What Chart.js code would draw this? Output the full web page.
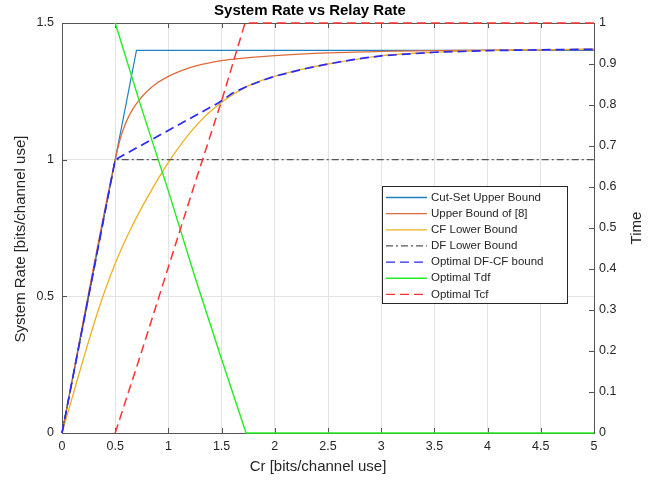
<!DOCTYPE html>
<html>
<head>
<meta charset="utf-8">
<title>System Rate vs Relay Rate</title>
<script src="https://cdn.jsdelivr.net/npm/chart.js@4.4.1/dist/chart.umd.min.js"></script>
<style>
  html, body { margin: 0; padding: 0; background: #fff; }
  #wrap { width: 662px; height: 480px; }
</style>
</head>
<body>
<div id="wrap"><canvas id="grafico" width="662" height="480"></canvas></div>
<script>
// ticks
const xTicks = [0, 0.5, 1, 1.5, 2, 2.5, 3, 3.5, 4, 4.5, 5];
const leftTicks = [0, 0.5, 1, 1.5];
const rightTicks = [0, 0.1, 0.2, 0.3, 0.4, 0.5, 0.6, 0.7, 0.8, 0.9, 1];

// series (x = Cr)
const cutSetX = [0, 0.7, 5];
const cutSetY = [0, 1.4, 1.4];

const upperX = [0, 0.5, 0.55, 0.6, 0.65, 0.7, 0.8, 0.9, 1.0, 1.1, 1.25, 1.5, 1.75, 2, 2.5, 3, 3.5, 4, 5];
const upperY = [0, 1.0, 1.08, 1.135, 1.175, 1.205, 1.25, 1.282, 1.305, 1.322, 1.342, 1.362, 1.373, 1.381, 1.391, 1.396, 1.399, 1.401, 1.403];

const cfX = [0, 0.1, 0.2, 0.35, 0.5, 0.65, 0.8, 1.0, 1.25, 1.5, 1.75, 2, 2.25, 2.5, 3, 3.5, 4, 4.5, 5];
const cfY = [0, 0.135, 0.27, 0.46, 0.62, 0.75, 0.86, 0.99, 1.12, 1.21, 1.27, 1.305, 1.33, 1.35, 1.38, 1.393, 1.399, 1.402, 1.404];

const dfX = [0, 0.5, 5];
const dfY = [0, 1, 1];

const dfcfX = [0, 0.5, 1.48, 1.6, 1.75, 1.9, 2, 2.25, 2.5, 2.75, 3, 3.5, 4, 4.5, 5];
const dfcfY = [0, 1.0, 1.21, 1.243, 1.27, 1.292, 1.305, 1.33, 1.35, 1.367, 1.38, 1.393, 1.399, 1.402, 1.404];

const tdfX = [0.5, 0.75, 1.0, 1.25, 1.5, 1.73, 5];
const tdfY = [1.0, 0.79, 0.59, 0.38, 0.18, 0, 0];

const tcfX = [0.5, 0.75, 1.0, 1.25, 1.5, 1.72, 5];
const tcfY = [0, 0.2, 0.405, 0.61, 0.81, 1, 1];

const FONTE = "'Liberation Sans', Arial, Helvetica, sans-serif";

function pares(xs, ys) {
    return xs.map((x, i) => ({ x: x, y: ys[i] }));
}

const series = [
    { label: 'Cut-Set Upper Bound', data: pares(cutSetX, cutSetY), cor: '#1f80c4', dash: [], eixo: 'y', w: 1.2 },
    { label: 'Upper Bound of [8]', data: pares(upperX, upperY), cor: '#dd6a3a', dash: [], eixo: 'y', w: 1.3, suave: true },
    { label: 'CF Lower Bound', data: pares(cfX, cfY), cor: '#EDB120', dash: [], eixo: 'y', w: 1.3, suave: true },
    { label: 'DF Lower Bound', data: pares(dfX, dfY), cor: '#555555', dash: [7, 3, 2, 3], eixo: 'y', w: 1.3 },
    { label: 'Optimal DF-CF bound', data: pares(dfcfX, dfcfY), cor: '#2a2aff', dash: [9, 5], eixo: 'y', w: 1.7 },
    { label: 'Optimal Tdf', data: pares(tdfX, tdfY), cor: '#22ee22', dash: [], eixo: 'y2', w: 1.4 },
    { label: 'Optimal Tcf', data: pares(tcfX, tcfY), cor: '#ff3333', dash: [9, 5], eixo: 'y2', w: 1.5 }
];

const molduraPlugin = {
    id: 'moldura',
    beforeDatasetsDraw(chart) {
        const { ctx, chartArea: a, scales } = chart;
        ctx.save();
        ctx.strokeStyle = '#555555';
        ctx.lineWidth = 1;
        ctx.beginPath();
        ctx.moveTo(a.left, a.top + 0.5);
        ctx.lineTo(a.right, a.top + 0.5);
        xTicks.forEach(v => {
            const px = Math.round(scales.x.getPixelForValue(v)) + 0.5;
            ctx.moveTo(px, a.bottom); ctx.lineTo(px, a.bottom - 5);
            ctx.moveTo(px, a.top); ctx.lineTo(px, a.top + 5);
        });
        leftTicks.forEach(v => {
            const py = Math.round(scales.y.getPixelForValue(v)) + 0.5;
            ctx.moveTo(a.left, py); ctx.lineTo(a.left + 5, py);
        });
        rightTicks.forEach(v => {
            const py = Math.round(scales.y2.getPixelForValue(v)) + 0.5;
            ctx.moveTo(a.right, py); ctx.lineTo(a.right - 5, py);
        });
        ctx.stroke();
        ctx.restore();
    },
    afterDraw(chart) {
        const ctx = chart.ctx;
        ctx.save();

        // titulo e rotulos dos eixos
        ctx.fillStyle = '#000';
        ctx.textAlign = 'center';
        ctx.textBaseline = 'middle';
        ctx.font = 'bold 15px ' + FONTE;
        ctx.fillText('System Rate vs Relay Rate', 310, 10.5);

        ctx.fillStyle = '#262626';
        ctx.font = '15px ' + FONTE;
        ctx.fillText('Cr [bits/channel use]', 318, 466.5);

        ctx.save();
        ctx.translate(21, 239);
        ctx.rotate(-Math.PI / 2);
        ctx.fillText('System Rate [bits/channel use]', 0, 0);
        ctx.restore();

        ctx.save();
        ctx.translate(637, 228);
        ctx.rotate(-Math.PI / 2);
        ctx.fillText('Time', 0, 0);
        ctx.restore();

        // legenda
        const bx = 382.5, by = 186.5, bw = 185, bh = 117;
        ctx.fillStyle = '#fff';
        ctx.fillRect(bx, by, bw, bh);
        ctx.strokeStyle = '#262626';
        ctx.lineWidth = 1;
        ctx.strokeRect(bx, by, bw, bh);

        ctx.font = '11.5px ' + FONTE;
        ctx.textAlign = 'left';
        chart.data.datasets.forEach((ds, i) => {
            const yy = 197.5 + i * 16.15;
            ctx.strokeStyle = ds.borderColor;
            ctx.lineWidth = 1.3;
            ctx.setLineDash(ds.borderDash || []);
            ctx.beginPath();
            ctx.moveTo(386, yy);
            ctx.lineTo(427, yy);
            ctx.stroke();
            ctx.setLineDash([]);
            ctx.fillStyle = '#262626';
            ctx.fillText(ds.label, 431, yy);
        });

        ctx.restore();
    }
};

window.addEventListener('load', function() {
    const ctx = document.getElementById('grafico').getContext('2d');

    const datasets = series.map((s, i) => ({
        label: s.label,
        data: s.data,
        yAxisID: s.eixo,
        borderColor: s.cor,
        backgroundColor: s.cor,
        borderWidth: s.w,
        borderDash: s.dash,
        pointRadius: 0,
        fill: false,
        tension: 0,
        clip: false,
        cubicInterpolationMode: s.suave ? 'monotone' : 'default',
        order: 10 - i
    }));

    new Chart(ctx, {
        type: 'line',
        data: { datasets: datasets },
        options: {
            responsive: false,
            animation: false,
            devicePixelRatio: 1,
            layout: { padding: { top: 23, left: 0, right: 0, bottom: 0 } },
            plugins: {
                legend: { display: false },
                title: { display: false },
                tooltip: { enabled: false }
            },
            scales: {
                x: {
                    type: 'linear',
                    min: 0, max: 5,
                    afterBuildTicks: (sc) => { sc.ticks = xTicks.map(v => ({ value: v })); },
                    afterFit: (sc) => { sc.height = 47; },
                    ticks: {
                        padding: 6,
                        color: '#262626',
                        font: { family: FONTE, size: 12.5 },
                        maxRotation: 0,
                        callback: (v) => String(v)
                    },
                    grid: { color: '#e3e3e3', drawTicks: false },
                    border: { color: '#555555', width: 1 }
                },
                y: {
                    position: 'left',
                    min: 0, max: 1.5,
                    afterBuildTicks: (sc) => { sc.ticks = leftTicks.map(v => ({ value: v })); },
                    afterFit: (sc) => { sc.width = 62; },
                    ticks: {
                        padding: 8,
                        color: '#262626',
                        font: { family: FONTE, size: 12.5 },
                        callback: (v) => String(v)
                    },
                    grid: { color: '#e3e3e3', drawTicks: false },
                    border: { color: '#555555', width: 1 }
                },
                y2: {
                    position: 'right',
                    min: 0, max: 1,
                    afterBuildTicks: (sc) => { sc.ticks = rightTicks.map(v => ({ value: v })); },
                    afterFit: (sc) => { sc.width = 68; },
                    ticks: {
                        padding: 5,
                        color: '#262626',
                        font: { family: FONTE, size: 12.5 },
                        callback: (v) => String(v)
                    },
                    grid: { display: false, drawTicks: false },
                    border: { color: '#555555', width: 1 }
                }
            }
        },
        plugins: [molduraPlugin]
    });
});
</script>
</body>
</html>
